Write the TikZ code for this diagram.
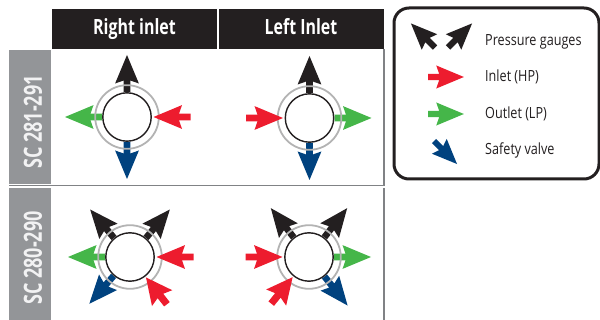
\documentclass[tikz,border=0pt]{standalone}
\usepackage{fontspec}
\setmainfont[FakeStretch=0.82]{Open Sans}
\newfontfamily\headfont[FakeStretch=0.76]{Open Sans}
\newfontfamily\sidefont[FakeStretch=0.72]{Open Sans}
\definecolor{cblack}{HTML}{231F20}
\definecolor{cred}{HTML}{ED1C2E}
\definecolor{cgreen}{HTML}{45B649}
\definecolor{cblue}{HTML}{00427F}
\definecolor{cside}{HTML}{939598}
\definecolor{cring}{HTML}{B3B3B3}
\definecolor{crule}{HTML}{808285}
\tikzset{
  header/.style={fill=cblack,draw=none,text=white,font=\headfont\fontsize{21}{21}\selectfont\bfseries,inner sep=0pt,text height=26pt,text depth=14pt,minimum width=165pt},
  sidebar/.style={fill=cside,draw=none,inner sep=0pt},
  sidetext/.style={text=white!88!cside,font=\sidefont\fontsize{25}{25}\selectfont\bfseries,rotate=90,inner sep=0pt},
  legendtext/.style={text=cblack,font=\fontsize{15.4}{15.4}\selectfont,anchor=base west,inner sep=0pt},
  ring/.style={draw=cring,line width=1.8pt},
  core/.style={draw=cblack,line width=1.4pt,fill=white,circle,minimum size=48.4pt,inner sep=0pt},
  gridrule/.style={draw=crule,line width=1.3pt},
}
% arrow in local frame: tail at x=0, tip at x=37, along +x
\newcommand{\arrowshape}[1]{%
  \fill[#1] (0,-3.3) -- (11.5,-3.3) -- (8.5,-11.9) -- (37,0) -- (8.5,11.9) -- (11.5,3.3) -- (0,3.3) -- cycle;}
% \placearrow{cx}{cy}{angle}{tail distance}{scale}{colour}
\newcommand{\placearrow}[6]{%
  \begin{scope}[shift={(#1,#2)},rotate=#3,shift={(#4,0)},scale=#5]\arrowshape{#6}\end{scope}}
\newcommand{\outarrow}[4]{\placearrow{#1}{#2}{#3}{25}{1}{#4}}
\newcommand{\inarrow}[4]{\begin{scope}[shift={(#1,#2)},rotate=#3,shift={(63.5,0)},rotate=180]\arrowshape{#4}\end{scope}}
\newcommand{\shortin}[4]{\begin{scope}[shift={(#1,#2)},rotate=#3,shift={(60,0)},rotate=180,xscale=.92,yscale=1.08]\arrowshape{#4}\end{scope}}
\begin{document}
\begin{tikzpicture}[x=1pt,y=-1pt]
\useasboundingbox (0,0) rectangle (600,320);
% headers
\node[header] (hr) at (134.5,29) {Right inlet};
\node[header] (hl) at (301,29) {Left Inlet};
% sidebars
\node[sidebar,minimum width=42pt,minimum height=134pt] (s1) at (30,117) {};
\node[sidebar,minimum width=42pt,minimum height=132pt] (s2) at (30,254) {};
\node[sidetext] (t1) at (33,122) {SC 281-291};
\node[sidetext] (t2) at (33,258) {SC 280-290};
% rules
\draw[gridrule] (9,185.5) -- (384,185.5);
\draw[gridrule] (384,49) -- (384,186);
\draw[gridrule] (384,188) -- (384,320);
% cell 1
\outarrow{127}{117}{90}{cblack}
\outarrow{127}{117}{180}{cgreen}
\outarrow{127}{117}{270}{cblue}
\draw[ring] (127,117) circle (31.8);
\inarrow{127}{117}{0}{cred}
\node[core] (c1) at (127,117) {};
% cell 2
\outarrow{309.5}{118}{90}{cblack}
\outarrow{309.5}{118}{0}{cgreen}
\outarrow{309.5}{118}{270}{cblue}
\draw[ring] (309.5,118) circle (31.8);
\inarrow{309.5}{118}{180}{cred}
\node[core] (c2) at (309.5,118) {};
% cell 3
\outarrow{130}{257}{130}{cblack}
\outarrow{130}{257}{50}{cblack}
\outarrow{130}{257}{180}{cgreen}
\outarrow{130}{257}{229}{cblue}
\draw[ring] (130,257) circle (31.8);
\inarrow{130}{257}{0}{cred}
\shortin{130}{257}{-52}{cred}
\node[core] (c3) at (130,257) {};
% cell 4
\outarrow{309}{257}{128}{cblack}
\outarrow{309}{257}{52}{cblack}
\outarrow{309}{257}{0}{cgreen}
\outarrow{309}{257}{-51.5}{cblue}
\draw[ring] (309,257) circle (31.8);
\inarrow{309}{257}{180}{cred}
\shortin{309}{257}{231}{cred}
\node[core] (c4) at (309,257) {};
% legend
\draw[draw=cblack,line width=3pt,rounded corners=15pt,fill=white] (394,8) rectangle (599,179);
\placearrow{435}{47.5}{135}{0}{0.92}{cblack}
\placearrow{448}{47.5}{45}{0}{0.92}{cblack}
\placearrow{428}{77}{0}{0}{0.97}{cred}
\placearrow{428}{114}{0}{0}{0.97}{cgreen}
\placearrow{434}{141}{-45}{0}{0.88}{cblue}
\node[legendtext] (l1) at (485,45.7) {Pressure gauges};
\node[legendtext] (l2) at (485,81.7) {Inlet (HP)};
\node[legendtext] (l3) at (485,119) {Outlet (LP)};
\node[legendtext] (l4) at (485,154.3) {Safety valve};
\end{tikzpicture}
\end{document}
